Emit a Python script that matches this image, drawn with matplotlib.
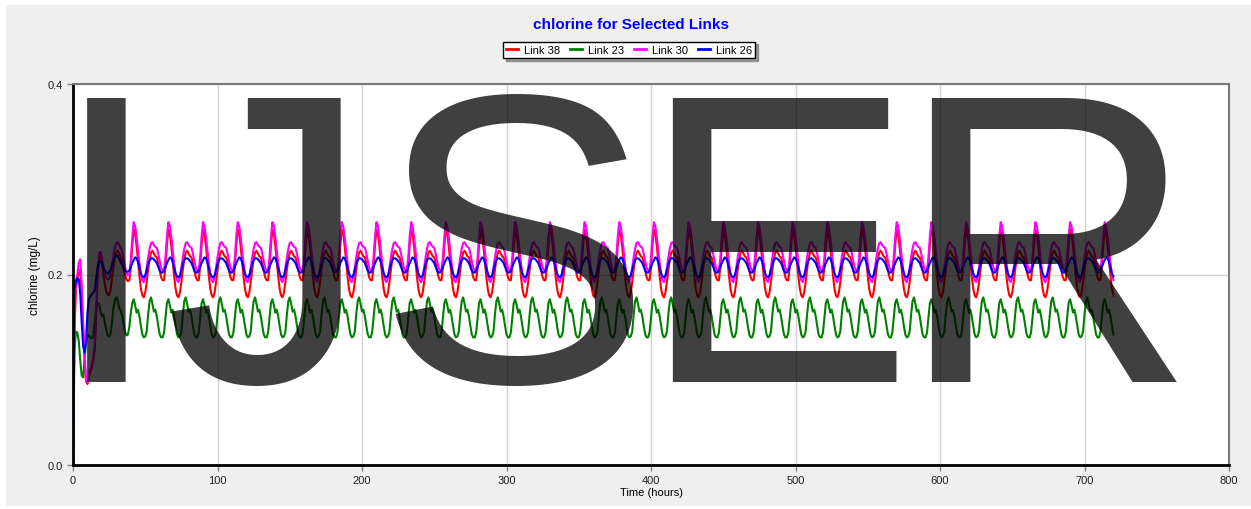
import numpy as np
import matplotlib
matplotlib.use('Agg')
import matplotlib.pyplot as plt
from matplotlib.patches import Rectangle

plt.rcParams['font.family'] = ['Liberation Sans', 'DejaVu Sans']

# hourly values: start-up (hours 0-41), then a daily cycle
# that repeats from hour 42 to the end of the run (hour 720)
n_hours = 721

link38_start = [0.000, 0.140, 0.185, 0.195, 0.203, 0.205, 0.180, 0.140, 0.110, 0.088,
                0.085, 0.092, 0.098, 0.102, 0.110, 0.120, 0.155, 0.195, 0.216, 0.220,
                0.212, 0.200, 0.190, 0.182, 0.179, 0.178, 0.184, 0.196, 0.208, 0.218,
                0.224, 0.225, 0.222, 0.218, 0.214, 0.207, 0.200, 0.195, 0.193, 0.194,
                0.207, 0.230]
link38_day = [0.247, 0.243, 0.230, 0.214, 0.198, 0.185, 0.178, 0.176, 0.181, 0.192,
              0.205, 0.216, 0.223, 0.225, 0.222, 0.219, 0.218, 0.212, 0.204, 0.197,
              0.194, 0.194, 0.208, 0.231]

link23_start = [0.000, 0.120, 0.140, 0.139, 0.130, 0.110, 0.094, 0.092, 0.110, 0.128,
                0.136, 0.136, 0.134, 0.133, 0.135, 0.150, 0.165, 0.170, 0.169, 0.162,
                0.156, 0.158, 0.150, 0.142, 0.136, 0.135, 0.138, 0.150, 0.165, 0.173,
                0.176, 0.172, 0.165, 0.162, 0.157, 0.148, 0.140, 0.136, 0.137, 0.145,
                0.160, 0.170]
link23_day = [0.174, 0.168, 0.160, 0.163, 0.156, 0.146, 0.137, 0.134, 0.135, 0.140,
              0.158, 0.172, 0.176, 0.169, 0.161, 0.163, 0.156, 0.146, 0.137, 0.134,
              0.134, 0.139, 0.155, 0.170]

link30_start = [0.000, 0.150, 0.193, 0.200, 0.212, 0.216, 0.190, 0.150, 0.119, 0.090,
                0.087, 0.095, 0.100, 0.104, 0.112, 0.125, 0.160, 0.200, 0.222, 0.224,
                0.218, 0.208, 0.200, 0.196, 0.195, 0.195, 0.200, 0.210, 0.220, 0.228,
                0.233, 0.234, 0.231, 0.228, 0.224, 0.216, 0.208, 0.202, 0.199, 0.200,
                0.215, 0.238]
link30_day = [0.255, 0.251, 0.240, 0.226, 0.212, 0.200, 0.194, 0.192, 0.197, 0.207,
              0.218, 0.227, 0.233, 0.234, 0.231, 0.229, 0.228, 0.222, 0.214, 0.207,
              0.204, 0.204, 0.218, 0.240]

link26_start = [0.000, 0.185, 0.193, 0.196, 0.195, 0.180, 0.150, 0.125, 0.118, 0.130,
                0.160, 0.174, 0.177, 0.179, 0.181, 0.183, 0.195, 0.208, 0.213, 0.214,
                0.212, 0.208, 0.204, 0.202, 0.201, 0.202, 0.205, 0.210, 0.215, 0.218,
                0.220, 0.219, 0.216, 0.213, 0.210, 0.207, 0.204, 0.203, 0.203, 0.204,
                0.208, 0.212]
link26_day = [0.215, 0.218, 0.217, 0.213, 0.207, 0.201, 0.198, 0.197, 0.199, 0.205,
              0.211, 0.215, 0.217, 0.217, 0.216, 0.214, 0.212, 0.208, 0.204, 0.202,
              0.202, 0.204, 0.208, 0.212]

series_names = ['Link 38', 'Link 23', 'Link 30', 'Link 26']
series_colors = ['#ff0000', '#008000', '#ff00ff', '#0000ff']

watermark_letters = ['I', 'J', 'S', 'E', 'R']


def build(start, day):
    reps = (n_hours - len(start)) // len(day) + 1
    return np.concatenate([start, np.tile(day, reps)])[:n_hours]


hours = np.arange(n_hours)
series = [build(link38_start, link38_day), build(link23_start, link23_day),
          build(link30_start, link30_day), build(link26_start, link26_day)]

W, H = 1251, 510
fig = plt.figure(figsize=(W / 100, H / 100), dpi=100, facecolor='white')
fig.patches.append(Rectangle((6 / W, 3 / H), 1245 / W, 501 / H, transform=fig.transFigure,
                             facecolor='#efefef', edgecolor='none', zorder=-10))

ax = fig.add_axes([73 / W, (H - 466) / H, (1229 - 73) / W, (466 - 85) / H])
ax.set_facecolor('white')

for y, name, c in zip(series, series_names, series_colors):
    ax.plot(hours, y, color=c, lw=1.5, label=name)

ax.set_xlim(0, 800)
ax.set_ylim(0, 0.4)
ax.set_xticks(np.arange(0, 801, 100))
ax.set_yticks([0.0, 0.2, 0.4])
ax.set_yticklabels(['0.0', '0.2', '0.4'])
ax.grid(True, color='#d4d4d4', lw=1.0)
ax.set_axisbelow(True)
ax.tick_params(length=4, width=1, color='#808080', labelsize=8, labelcolor='#202020', pad=3)

for s in ['left', 'bottom']:
    ax.spines[s].set_color('black')
    ax.spines[s].set_linewidth(2)
for s in ['top', 'right']:
    ax.spines[s].set_color('#7a7a7a')
    ax.spines[s].set_linewidth(1.5)

ax.set_xlabel('Time (hours)', fontsize=8, labelpad=2)
ax.set_ylabel('chlorine (mg/L)', fontsize=8.5, labelpad=5)

fig.text(631 / W, 1 - 25 / H, 'chlorine for Selected Links', color='#0000ff',
         fontsize=11, fontweight='bold', ha='center', va='center')

leg = fig.legend(loc='center', bbox_to_anchor=(629 / W, 1 - 51 / H), ncol=4, fontsize=8,
                 frameon=True, fancybox=False, shadow=True, handlelength=1.1,
                 handletextpad=0.5, columnspacing=0.9, borderpad=0.3)
leg.get_frame().set_edgecolor('black')
leg.get_frame().set_linewidth(1.0)
for line in leg.get_lines():
    line.set_linewidth(2)

# watermark over the plot, one letter at a time (left edges in pixels)
letter_x = [49, 165, 376, 638, 897]
for ch, x in zip(watermark_letters, letter_x):
    fig.text(x / W, (H - 382) / H, ch, fontsize=297, color='black', alpha=0.75,
             ha='left', va='baseline', zorder=5)

fig.savefig('out.png', dpi=100)
